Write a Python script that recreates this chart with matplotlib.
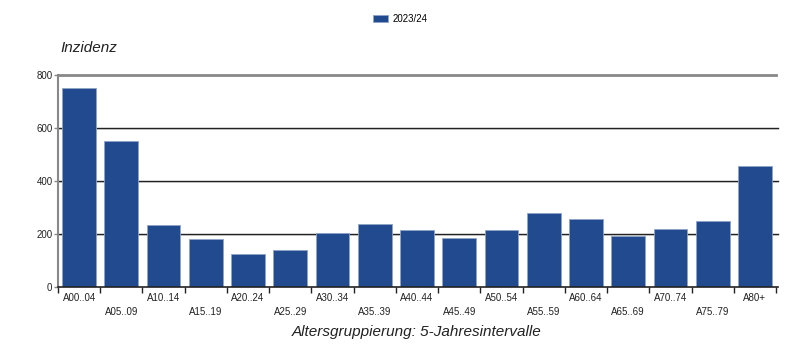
import matplotlib
matplotlib.use("Agg")
import matplotlib.pyplot as plt
import matplotlib.transforms as mtrans
import numpy as np

plt.rcParams['font.family'] = ['Liberation Sans', 'DejaVu Sans']

categories = ["A00..04", "A05..09", "A10..14", "A15..19", "A20..24", "A25..29",
              "A30..34", "A35..39", "A40..44", "A45..49", "A50..54", "A55..59",
              "A60..64", "A65..69", "A70..74", "A75..79", "A80+"]
values = [751, 550, 234, 181, 124, 138, 204, 236, 216, 184, 214, 280,
          256, 194, 220, 250, 456]
series_name = "2023/24"
yticks = [0, 200, 400, 600, 800]
ylabel = "Inzidenz"
xlabel = "Altersgruppierung: 5-Jahresintervalle"

bar_color = "#214a8f"

fig = plt.figure(figsize=(8, 3.55), dpi=100)
ax = fig.add_axes([58/800, 1-287/355, (776-58)/800, (287-75)/355])

x = np.arange(len(categories))
xr = len(categories) - 0.5
shadow = ax.transData + mtrans.ScaledTranslation(0, -1.3/100, fig.dpi_scale_trans)
# gridlines with light shadow
for yv in yticks[1:4]:
    ax.plot([-0.5, xr + 0.05], [yv, yv], color="#dcdcdc", lw=1.2, zorder=1,
            transform=shadow, clip_on=False)
    ax.plot([-0.5, xr + 0.05], [yv, yv], color="#222222", lw=1.0, zorder=1, clip_on=False)
bars = ax.bar(x, values, width=0.8, color=bar_color, edgecolor="#8fa3c8", linewidth=0.6,
              zorder=2, label=series_name)

ax.set_xlim(-0.5, xr)
ax.set_ylim(0, 800)

for s in ["right", "bottom"]:
    ax.spines[s].set_visible(False)
ax.spines["top"].set_color("#888888")
ax.spines["top"].set_linewidth(2.0)
ax.spines["left"].set_color("#888888")
ax.spines["left"].set_linewidth(1.5)
ax.plot([-0.5, xr + 0.05], [0, 0], color="#222222", lw=1.2, zorder=3, clip_on=False)

ax.set_yticks(yticks)
ax.set_yticklabels([str(v) for v in yticks], fontsize=7, color="#222222")
ax.tick_params(axis="y", length=3, width=1, color="#888888", pad=1)

ax.set_xticks(x)
labels = [c if i % 2 == 0 else "\n" + c for i, c in enumerate(categories)]
ax.set_xticklabels(labels, fontsize=7, color="#222222", linespacing=1.55)
ax.tick_params(axis="x", which="major", length=0, pad=4)
ax.set_xticks(np.arange(len(categories) + 1) - 0.5, minor=True)
ax.tick_params(axis="x", which="minor", length=4, width=1, color="#222222")

fig.text(60/800, 1-48/355, ylabel, fontsize=11, style="italic", va="center", ha="left", color="#222222")
fig.text(417/800, 1-332/355, xlabel, fontsize=11, style="italic", va="center", ha="center", color="#222222")

fig.legend(handles=[bars], labels=[series_name], loc="center", bbox_to_anchor=(400/800, 1-19/355),
           frameon=False, fontsize=7, handlelength=1.6, handleheight=0.7, handletextpad=0.4)

fig.savefig("out.png", dpi=100)
